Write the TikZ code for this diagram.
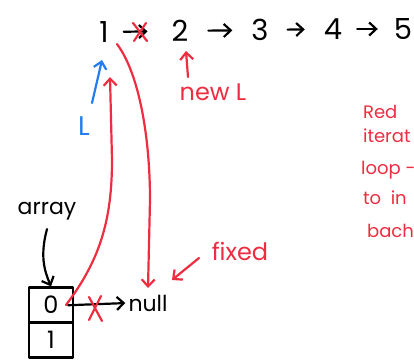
\documentclass[tikz,border=0pt]{standalone}
\usepackage{fontspec}
\setmainfont{Poppins}
\usetikzlibrary{arrows.meta}
\definecolor{pred}{RGB}{238,45,65}
\definecolor{pblue}{RGB}{35,125,240}
\begin{document}
\begin{tikzpicture}[x=1pt,y=-1pt,line width=2.2pt,line cap=round,line join=round,
  big/.style={font=\fontsize{29}{31}\selectfont,inner sep=0pt},
  hand/.style={font=\fontsize{22}{24}\selectfont,inner sep=0pt},
  arr/.style={-{Straight Barb[length=7pt,width=13pt,line width=2.2pt]}},
  cell/.style={draw,minimum width=44pt,minimum height=35pt,inner sep=0pt,font=\fontsize{24}{26}\selectfont},
  redtxt/.style={font=\fontsize{18}{20}\selectfont,inner sep=0pt,text=pred,anchor=base west}]
\useasboundingbox (0,0) rectangle (414,362);
\clip (0,0) rectangle (414,362);
% list
\node[big] (n1) at (104,32) {1};
\node[big] (n2) at (180,31) {2};
\node[big] (n3) at (260,30) {3};
\node[big] (n4) at (333,29) {4};
\node[big] (n5) at (403,29) {5};
\draw[arr,shorten <=14pt,shorten >=23pt] (n1) -- (n2);
\draw[arr,shorten <=19pt,shorten >=18pt] (n2) -- (n3);
\draw[arr,shorten <=18pt,shorten >=18pt] (n3) -- (n4);
\draw[arr,shorten <=14pt,shorten >=15pt] (n4) -- (n5);
% red cross on first arrow
\draw[pred] (133,23) -- (147,41) (146,23) -- (134,41);
% new L
\node[hand,text=pred,font=\fontsize{24}{26}\selectfont] (newL) at (213,92) {new L};
\coordinate (nlTail) at (188,77);
\coordinate (nlHead) at (186,51);
\draw[pred,arr] (nlTail) -- (nlHead);
% blue L
\node[hand,text=pblue,font=\fontsize{27}{29}\selectfont] (bL) at (84,126) {L};
\coordinate (bTail) at (92,103);
\coordinate (bHead) at (102,60);
\draw[pblue,arr] (bTail) -- (bHead);
% array box
\node[hand] (array) at (47,211) {array};
\node[cell] (c0) at (51,305) {0};
\node[cell] (c1) at (51,340) {1};
\node[hand] (null) at (148,303) {null};
\draw[arr] (array.south) ++(0,8) .. controls (40,255) and (44,270) .. (c0.north);
\draw[arr,shorten <=-6pt,shorten >=2pt] (c0.east) -- (null.west);
\draw[pred] (89,297) -- (102,321) (101,296) -- (89,320);
% red loop arrows
\coordinate (upTail) at (66,305);
\coordinate (upHead) at (110,77);
\draw[pred,arr] (upTail) .. controls (100,260) and (112,220) .. (112,160) -- (upHead);
\coordinate (dnTail) at (117,44);
\coordinate (dnHead) at (148,288);
\draw[pred,arr] (dnTail) .. controls (140,75) and (150,140) .. (150,200) -- (dnHead);
% fixed
\node[hand,text=pred,font=\fontsize{24}{26}\selectfont] (fixed) at (240,251) {fixed};
\coordinate (fxTail) at (199,258);
\coordinate (fxHead) at (172,280);
\draw[pred,arr] (fxTail) -- (fxHead);
% right notes
\node[redtxt] (r1) at (362,118) {Red};
\node[redtxt] (r2) at (362,142) {iterat};
\node[redtxt] (r3) at (360,174) {loop -};
\node[redtxt] (r4) at (362,204) {to\ \ in};
\node[redtxt] (r5) at (366,237) {bach};
\end{tikzpicture}
\end{document}
